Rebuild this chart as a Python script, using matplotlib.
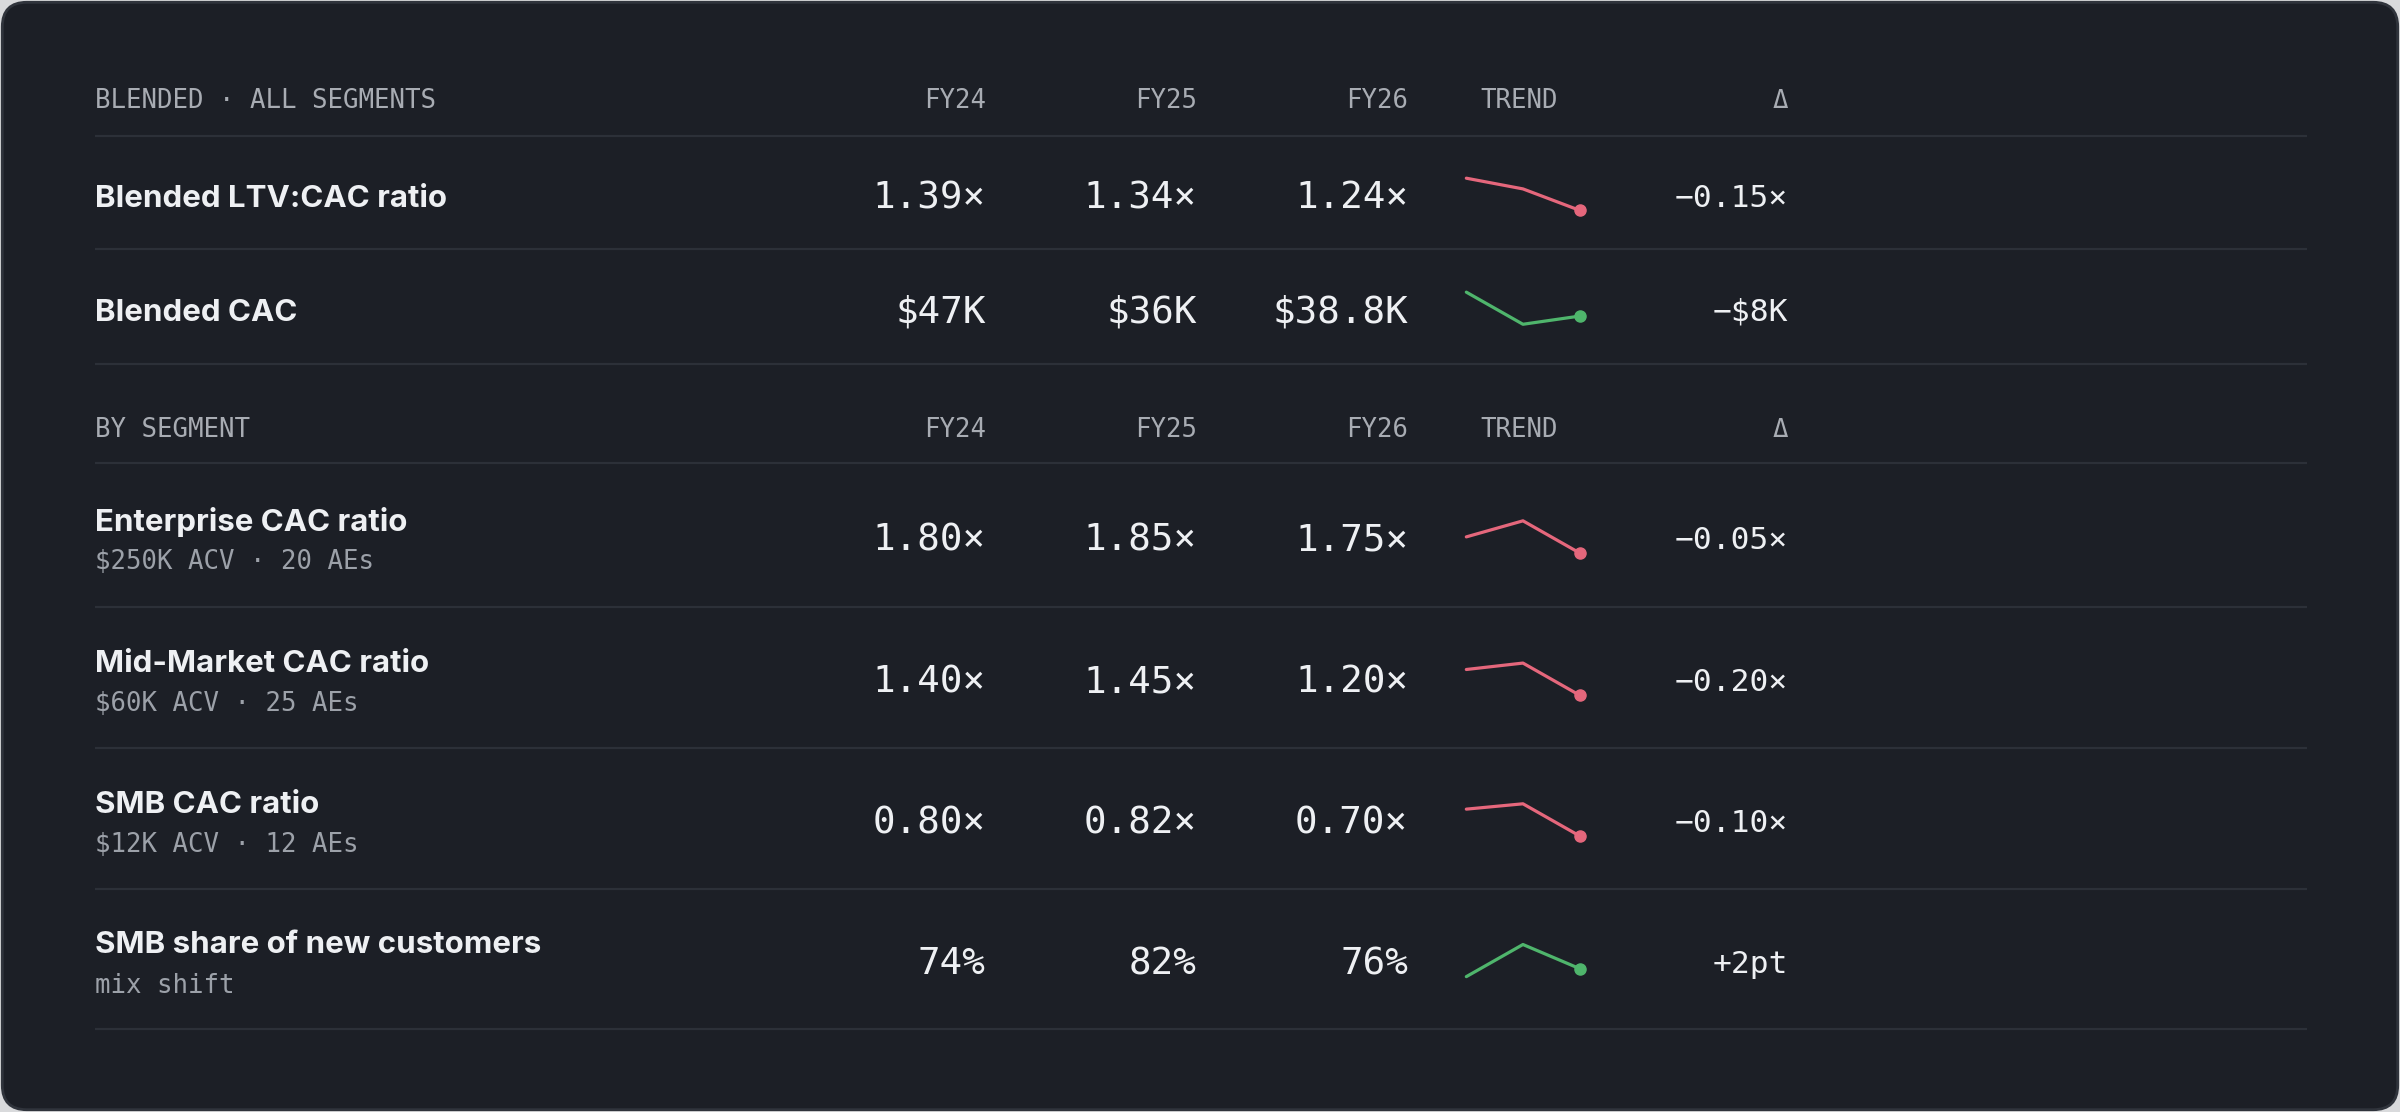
import matplotlib.pyplot as plt
from matplotlib.patches import FancyBboxPatch

# header labels
col_heads = ["FY24", "FY25", "FY26"]
section_names = ["BLENDED · ALL SEGMENTS", "BY SEGMENT"]

# blended section
blend_titles = ["Blended LTV:CAC ratio", "Blended CAC"]
blend_fy24 = ["1.39×", "$47K"]
blend_fy25 = ["1.34×", "$36K"]
blend_fy26 = ["1.24×", "$38.8K"]
blend_delta = ["−0.15×", "−$8K"]
blend_trend = [[1.39, 1.34, 1.24], [47, 36, 38.8]]
blend_good = [False, True]

# segment section
seg_titles = ["Enterprise CAC ratio", "Mid-Market CAC ratio", "SMB CAC ratio",
              "SMB share of new customers"]
seg_subs = ["$250K ACV · 20 AEs", "$60K ACV · 25 AEs", "$12K ACV · 12 AEs", "mix shift"]
seg_fy24 = ["1.80×", "1.40×", "0.80×", "74%"]
seg_fy25 = ["1.85×", "1.45×", "0.82×", "82%"]
seg_fy26 = ["1.75×", "1.20×", "0.70×", "76%"]
seg_delta = ["−0.05×", "−0.20×", "−0.10×", "+2pt"]
seg_trend = [[1.80, 1.85, 1.75], [1.40, 1.45, 1.20], [0.80, 0.82, 0.70], [74, 82, 76]]
seg_good = [False, False, False, True]

BG = "#1c1f26"
LINE = "#2c3038"
TXT = "#eef0f3"
HEAD = "#a8acb3"
SUB = "#9ca1a9"
RED = "#e5677c"
GREEN = "#4fb56c"
SANS = ["Inter", "DejaVu Sans"]
MONO = ["DejaVu Sans Mono"]

W, H = 1568, 727  # layout units (reference at 1568 wide)
fig = plt.figure(figsize=(24, 11.12), dpi=100)
fig.patch.set_facecolor("#d9dadc")
ax = fig.add_axes([0, 0, 1, 1])
ax.set_xlim(0, W)
ax.set_ylim(H, 0)
ax.axis("off")

ax.add_patch(FancyBboxPatch((1.5, 1.5), W - 3, H - 3,
                            boxstyle="round,pad=0,rounding_size=16",
                            facecolor=BG, edgecolor="#30343c", linewidth=2))

X0, X1 = 62, 1507
X_COLS = [644, 782, 920]
X_TREND = 967
X_DELTA = 1168
SPK_X0, SPK_X1 = 958, 1032
SPK_H = 21


def hline(y):
    ax.plot([X0, X1], [y, y], color=LINE, lw=1.6, solid_capstyle="butt")


def header(y, name):
    y = y + 2
    ax.text(X0, y, name, color=HEAD, fontsize=18.5, family=MONO, va="center", ha="left")
    for x, h in zip(X_COLS, col_heads):
        ax.text(x, y, h, color=HEAD, fontsize=18.5, family=MONO, va="center", ha="right")
    ax.text(X_TREND, y, "TREND", color=HEAD, fontsize=18.5, family=MONO, va="center", ha="left")
    ax.text(X_DELTA, y, "Δ", color=HEAD, fontsize=18.5, family=MONO, va="center", ha="right")


def sparkline(yc, vals, good):
    c = GREEN if good else RED
    left = SPK_X0 / W
    bottom = 1 - (yc + 1 + SPK_H / 2) / H
    sa = fig.add_axes([left, bottom, (SPK_X1 - SPK_X0) / W, SPK_H / H])
    sa.axis("off")
    sa.patch.set_alpha(0)
    xs = range(len(vals))
    sa.plot(xs, vals, color=c, lw=2.3, solid_joinstyle="round", solid_capstyle="round",
            clip_on=False)
    sa.plot([xs[-1]], [vals[-1]], "o", color=c, ms=8, clip_on=False)
    sa.set_xlim(0, len(vals) - 1)
    sa.set_ylim(min(vals), max(vals))


def data_row(y_top, y_bot, title, sub, v24, v25, v26, dlt, trend, good):
    yc = (y_top + y_bot) / 2
    if sub:
        ax.text(X0, yc - 9, title, color=TXT, fontsize=22.5, family=SANS,
                fontweight="bold", va="center", ha="left")
        ax.text(X0, yc + 17.5, sub, color=SUB, fontsize=18.5, family=MONO, va="center", ha="left")
    else:
        ax.text(X0, yc + 4, title, color=TXT, fontsize=22.5, family=SANS,
                fontweight="bold", va="center", ha="left")
    for x, v in zip(X_COLS, [v24, v25, v26]):
        ax.text(x, yc + 3.5, v, color=TXT, fontsize=27, family=MONO, va="center", ha="right")
    ax.text(X_DELTA, yc + 3.5, dlt, color=TXT, fontsize=22.5, family=MONO, va="center", ha="right")
    sparkline(yc, trend, good)
    hline(y_bot)


# section 1
header(64, section_names[0])
hline(89)
bounds1 = [89, 163, 238]
for i in range(len(blend_titles)):
    data_row(bounds1[i], bounds1[i + 1], blend_titles[i], None, blend_fy24[i], blend_fy25[i],
             blend_fy26[i], blend_delta[i], blend_trend[i], blend_good[i])

# section 2
header(279, section_names[1])
hline(303)
bounds2 = [303, 397, 489, 581, 673]
for i in range(len(seg_titles)):
    data_row(bounds2[i], bounds2[i + 1], seg_titles[i], seg_subs[i], seg_fy24[i], seg_fy25[i],
             seg_fy26[i], seg_delta[i], seg_trend[i], seg_good[i])

fig.savefig("out.png", dpi=100, facecolor=fig.get_facecolor())
